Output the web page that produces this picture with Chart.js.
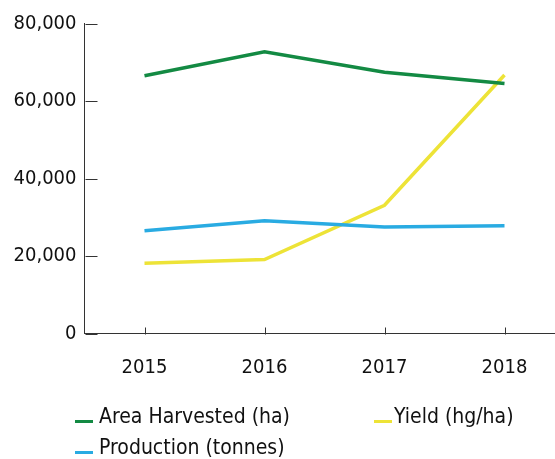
<!DOCTYPE html>
<html>
<head>
<meta charset="utf-8">
<script src="https://cdn.jsdelivr.net/npm/chart.js@4/dist/chart.umd.min.js"></script>
<style>
  html, body { margin: 0; padding: 0; background: #fff; overflow: hidden; }
  #wrap { position: absolute; left: 0; top: 0; width: 565px; height: 459px; }
  .lg { position: absolute; font-family: "DejaVu Sans Condensed", "DejaVu Sans", sans-serif; font-size: 21px; line-height: 1; color: #111; white-space: nowrap; }
  .mk { position: absolute; height: 3px; width: 18px; }
</style>
</head>
<body>
<div id="wrap"><canvas id="c"></canvas></div>
<div class="mk" style="left:75px; top:420px; background:#138a43"></div>
<div class="lg" style="left:99px; top:405.5px">Area Harvested (ha)</div>
<div class="mk" style="left:374px; top:420px; background:#ede337"></div>
<div class="lg" style="left:394px; top:405.5px">Yield (hg/ha)</div>
<div class="mk" style="left:75px; top:451px; background:#29abe2"></div>
<div class="lg" style="left:99px; top:436.5px">Production (tonnes)</div>
<script>
const years = ["2015", "2016", "2017", "2018"];
const areaHarvested = [66500, 72700, 67400, 64500];
const production = [26500, 29100, 27500, 27800];
const yieldValues = [18150, 19100, 33100, 66700];
const yTicks = [0, 20000, 40000, 60000, 80000];

const tickFont = { family: "DejaVu Sans Condensed, DejaVu Sans, sans-serif", size: 20 };

const innerTicks = {
  id: 'innerTicks',
  afterDraw(chart) {
    const ctx = chart.ctx;
    const xs = chart.scales.x, ys = chart.scales.y;
    ctx.save();
    ctx.strokeStyle = '#333';
    ctx.lineWidth = 1;
    ctx.beginPath();
    const bottom = Math.round(xs.top) + 0.5;
    xs.ticks.forEach((t, i) => {
      const px = Math.round(xs.getPixelForTick(i)) + 0.5;
      ctx.moveTo(px, bottom);
      ctx.lineTo(px, bottom - 7);
    });
    const left = Math.round(ys.right) + 0.5;
    ys.ticks.forEach((t) => {
      const py = Math.round(ys.getPixelForValue(t.value)) + 0.5;
      ctx.moveTo(left, py);
      ctx.lineTo(left + 12, py);
    });
    ctx.stroke();
    ctx.restore();
  }
};

new Chart(document.getElementById('c'), {
  type: 'line',
  data: {
    labels: years,
    datasets: [
      { label: 'Area Harvested (ha)', data: areaHarvested, borderColor: '#138a43', backgroundColor: '#138a43' },
      { label: 'Production (tonnes)', data: production, borderColor: '#29abe2', backgroundColor: '#29abe2' },
      { label: 'Yield (hg/ha)', data: yieldValues, borderColor: '#ede337', backgroundColor: '#ede337' }
    ]
  },
  plugins: [innerTicks],
  options: {
    responsive: true,
    maintainAspectRatio: false,
    animation: false,
    devicePixelRatio: 1,
    layout: { padding: { left: 0, right: 0.5, top: 23.5, bottom: 0 } },
    elements: {
      line: { borderWidth: 3.5, tension: 0, borderCapStyle: 'butt', borderJoinStyle: 'miter' },
      point: { radius: 0, hoverRadius: 0 }
    },
    plugins: { legend: { display: false }, tooltip: { enabled: false } },
    scales: {
      x: {
        offset: true,
        grid: { display: false },
        border: { display: true, color: '#333', width: 1 },
        ticks: { color: '#111', font: tickFont, padding: 14, maxRotation: 0 },
        afterFit: (s) => { s.height = 125.5; }
      },
      y: {
        min: 0, max: 80000,
        afterBuildTicks: (s) => { s.ticks = yTicks.map(v => ({ value: v })); },
        grid: { display: false },
        border: { display: true, color: '#333', width: 1 },
        ticks: { color: '#111', font: tickFont, padding: 0,
          callback: (v) => v.toLocaleString('en-US') },
        afterFit: (s) => { s.width = 84.5; }
      }
    }
  }
});
</script>
</body>
</html>
